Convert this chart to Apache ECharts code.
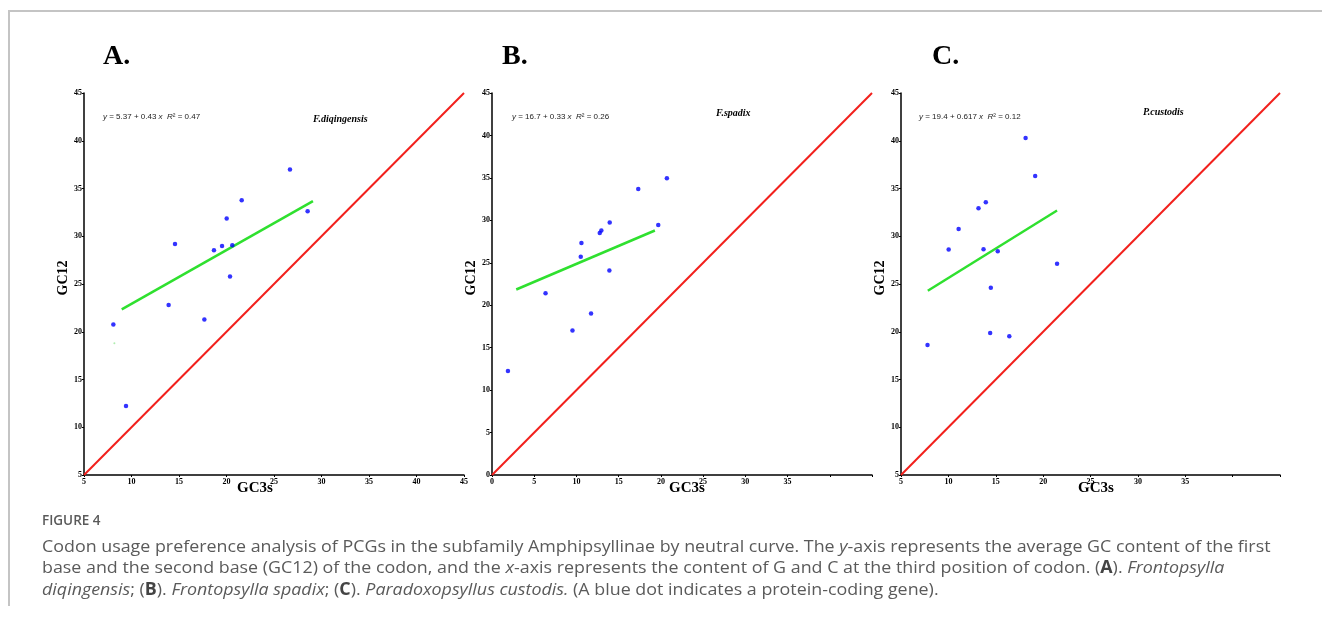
<!DOCTYPE html>
<html><head><meta charset="utf-8">
<script src="https://cdn.jsdelivr.net/npm/echarts@6/dist/echarts.min.js"></script>
<style>html,body{margin:0;padding:0;background:#fff}#c{width:1322px;height:625px}</style>
</head><body><div id="c"></div>
<script>
// Panel A: F. diqingensis
const gc3sA = [8.09, 9.42, 13.91, 14.58, 17.67, 18.68, 19.53, 20.02, 20.37, 20.61, 21.6, 26.68, 28.54];
const gc12A = [20.76, 12.22, 22.79, 29.2, 21.29, 28.54, 28.99, 31.85, 25.78, 29.06, 33.77, 36.98, 32.62];
const fitA = [[8.97, 22.34], [29.1, 33.67]];
const strayA = [[8.2, 18.8]];
// Panel B: F. spadix
const gc3sB = [1.89, 6.34, 9.53, 10.51, 10.59, 11.73, 12.76, 12.95, 13.9, 13.94, 17.32, 19.69, 20.71];
const gc12B = [12.24, 21.42, 17.03, 25.7, 27.34, 19.03, 28.52, 28.8, 24.09, 29.74, 33.7, 29.46, 34.95];
const fitB = [[2.87, 21.85], [19.29, 28.8]];
// Panel C: P. custodis
const gc3sC = [7.8, 10.03, 11.08, 13.18, 13.71, 13.95, 14.41, 14.48, 15.21, 16.43, 18.15, 19.16, 21.47];
const gc12C = [18.6, 28.61, 30.77, 32.93, 28.64, 33.56, 19.86, 24.6, 28.43, 19.54, 40.29, 36.32, 27.11];
const fitC = [[7.83, 24.29], [21.47, 32.69]];
// neutral (y = x) lines
const neutralA = [[5, 5], [45, 45]];
const neutralB = [[0, 0], [45, 45]];
const neutralC = [[5, 5], [45, 45]];
// axis ranges / ticks
const axisMinA = 5, axisMinB = 0, axisMinC = 5, axisMax = 45, tickStep = 5;
const xLabelMaxB = 35, xLabelMaxC = 35;
const panelLetters = ['A.', 'B.', 'C.'];
const species = ['F.diqingensis', 'F.spadix', 'P.custodis'];
const equations = [
  ['5.37', '0.43', '0.47'],
  ['16.7', '0.33', '0.26'],
  ['19.4', '0.617', '0.12']
];
const xTitle = 'GC3s', yTitle = 'GC12';

const zip = (xs, ys) => xs.map((x, i) => [x, ys[i]]);

const tickFont = {fontFamily: 'Liberation Serif', fontWeight: 'bold', fontSize: 8, color: '#000'};
function xAx(gi, min, labelMax) {
  return {
    gridIndex: gi, type: 'value', min: min, max: axisMax, interval: tickStep,
    axisLine: {show: true, onZero: false, lineStyle: {color: '#000', width: 1.5}},
    axisTick: {show: true, length: 2, lineStyle: {color: '#000'}},
    splitLine: {show: false},
    axisLabel: Object.assign({margin: 3, showMinLabel: true, showMaxLabel: true,
      formatter: v => (labelMax != null && v > labelMax) ? '' : String(v)}, tickFont)
  };
}
function yAx(gi, min) {
  return {
    gridIndex: gi, type: 'value', min: min, max: axisMax, interval: tickStep,
    axisLine: {show: true, onZero: false, lineStyle: {color: '#000', width: 1.5}},
    axisTick: {show: true, length: 2, lineStyle: {color: '#000'}},
    splitLine: {show: false},
    axisLabel: Object.assign({margin: 2, showMinLabel: true, showMaxLabel: true}, tickFont),
    name: yTitle, nameLocation: 'middle', nameGap: 12,
    nameTextStyle: {fontFamily: 'Liberation Serif', fontWeight: 'bold', fontSize: 14, color: '#000', padding: [0, 0, 0, 12]}
  };
}
function panelSeries(i, pts, fit, neutral) {
  return [
    {type: 'line', xAxisIndex: i, yAxisIndex: i, data: neutral, symbol: 'none', silent: true,
      lineStyle: {color: '#f2201c', width: 2}, z: 2},
    {type: 'line', xAxisIndex: i, yAxisIndex: i, data: fit, symbol: 'none', silent: true,
      lineStyle: {color: '#2fe02f', width: 2.5}, z: 3},
    {type: 'scatter', xAxisIndex: i, yAxisIndex: i, data: pts, symbol: 'circle', symbolSize: 4.5,
      itemStyle: {color: '#0000ff'}, z: 4}
  ];
}

const eqRich = {i: {fontStyle: 'italic', fontFamily: 'Liberation Sans', fontSize: 8, fill: '#222'}};
function eqText(e) { return '{i|y} = ' + e[0] + ' + ' + e[1] + ' {i|x}  {i|R}² = ' + e[2]; }

const capSize = 17;
const capBase = {fontFamily: 'Open Sans', fontSize: capSize, fill: '#5a5a5a'};
const capRich = {
  i: {fontFamily: 'Open Sans', fontSize: capSize, fontStyle: 'italic', fill: '#5a5a5a'},
  b: {fontFamily: 'Open Sans', fontSize: capSize, fontWeight: 'bold', fill: '#444'}
};
const captionLines = [
  'Codon usage preference analysis of PCGs in the subfamily Amphipsyllinae by neutral curve. The {i|y}-axis represents the average GC content of the first',
  'base and the second base (GC12) of the codon, and the {i|x}-axis represents the content of G and C at the third position of codon. ({b|A}). {i|Frontopsylla}',
  '{i|diqingensis}; ({b|B}). {i|Frontopsylla spadix}; ({b|C}). {i|Paradoxopsyllus custodis.} (A blue dot indicates a protein-coding gene).'
];

const letterX = [103, 502, 932];
const eqX = [103, 512, 919];
const spX = [313, 716, 1143];
const spY = [119, 113, 112];
const gcX = [255, 687, 1096];

const graphics = [
  {type: 'line', shape: {x1: 8, y1: 11, x2: 1322, y2: 11}, style: {stroke: '#c4c4c4', lineWidth: 2}},
  {type: 'line', shape: {x1: 9, y1: 11, x2: 9, y2: 606}, style: {stroke: '#c4c4c4', lineWidth: 2}},
  {type: 'text', x: 42, y: 521, style: {text: 'FIGURE 4', fontFamily: 'Open Sans', fontSize: 13.5, fontWeight: 600, fill: '#5a5a5a', verticalAlign: 'middle'}}
];
captionLines.forEach((t, k) => {
  graphics.push({type: 'text', x: 42, y: 547 + k * 21.5, scaleX: 1.05,
    style: Object.assign({text: t, rich: capRich, verticalAlign: 'middle'}, capBase)});
});
for (let k = 0; k < 3; k++) {
  graphics.push({type: 'text', x: letterX[k], y: 57, style: {text: panelLetters[k], fontFamily: 'Liberation Serif', fontWeight: 'bold', fontSize: 28, fill: '#000', verticalAlign: 'middle'}});
  graphics.push({type: 'text', x: eqX[k], y: 117, style: {text: eqText(equations[k]), rich: eqRich, fontFamily: 'Liberation Sans', fontSize: 8, fill: '#222', verticalAlign: 'middle'}});
  graphics.push({type: 'text', x: spX[k], y: spY[k], style: {text: species[k], fontFamily: 'Liberation Serif', fontWeight: 'bold', fontStyle: 'italic', fontSize: 10, fill: '#000', verticalAlign: 'middle'}});
  graphics.push({type: 'text', x: gcX[k], y: 488, style: {text: xTitle, fontFamily: 'Liberation Serif', fontWeight: 'bold', fontSize: 15, fill: '#000', align: 'center', verticalAlign: 'middle'}});
}

const option = {
  animation: false,
  backgroundColor: '#fff',
  grid: [
    {left: 84, top: 93, width: 380, height: 382},
    {left: 492, top: 93, width: 380, height: 382},
    {left: 901, top: 93, width: 379, height: 382}
  ],
  xAxis: [xAx(0, axisMinA, null), xAx(1, axisMinB, xLabelMaxB), xAx(2, axisMinC, xLabelMaxC)],
  yAxis: [yAx(0, axisMinA), yAx(1, axisMinB), yAx(2, axisMinC)],
  series: [].concat(
    panelSeries(0, zip(gc3sA, gc12A), fitA, neutralA),
    [{type: 'scatter', xAxisIndex: 0, yAxisIndex: 0, data: strayA, symbolSize: 2, itemStyle: {color: '#9be89b'}, z: 3}],
    panelSeries(1, zip(gc3sB, gc12B), fitB, neutralB),
    panelSeries(2, zip(gc3sC, gc12C), fitC, neutralC)
  ),
  graphic: graphics
};
echarts.init(document.getElementById('c')).setOption(option);
</script></body></html>
